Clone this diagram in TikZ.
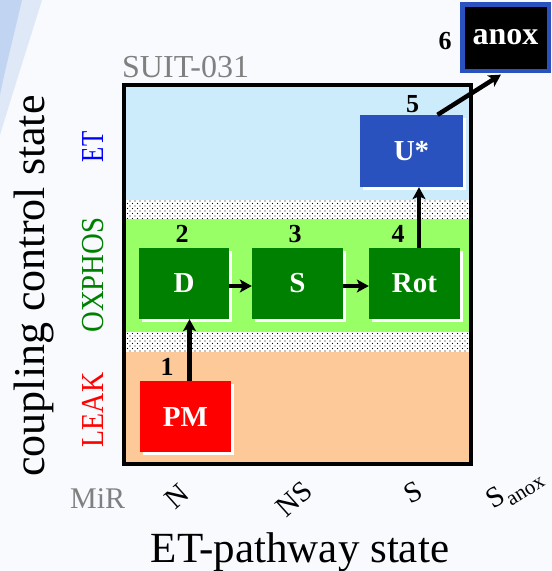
\documentclass[tikz,border=0pt]{standalone}
\usepackage{fontspec}
\setmainfont{Liberation Serif}
\usetikzlibrary{arrows.meta,patterns.meta,shadows}
\definecolor{bandET}{HTML}{CCEBFB}
\definecolor{bandOX}{HTML}{99FF66}
\definecolor{bandLK}{HTML}{FDC998}
\definecolor{dgreen}{HTML}{008000}
\definecolor{ublue}{HTML}{2A52BE}
\definecolor{txtgray}{HTML}{808080}
\definecolor{bgcol}{HTML}{F8FAFD}
\definecolor{streak}{HTML}{AFC8EE}
\newcommand\myfs[1]{\fontsize{#1}{#1}\selectfont}
\begin{document}
\begin{tikzpicture}[x=1pt,y=-1pt,
  box/.style={rectangle, inner sep=0pt, text=white, font=\bfseries\myfs{29},
    drop shadow={shadow xshift=3pt,shadow yshift=-3pt,fill=white,opacity=1}},
  num/.style={font=\bfseries\myfs{26}, anchor=base, inner sep=0pt},
  arr/.style={line width=4.5pt, -{Stealth[length=12pt,width=13pt,inset=3pt]}},
  band/.style={rotate=90, anchor=base, inner sep=0pt, font=\myfs{32}},
  tick/.style={font=\myfs{29}, inner sep=0pt}
]
\useasboundingbox (0,0) rectangle (552,571);
\fill[bgcol] (0,0) rectangle (552,571);
\fill[streak, opacity=0.35] (0,0) -- (42,0) .. controls (28,45) and (12,95) .. (0,135) -- cycle;
\fill[streak, opacity=0.6] (0,0) -- (22,0) .. controls (14,35) and (6,65) .. (0,95) -- cycle;

% interior with dots
\fill[white] (126,87) rectangle (468.5,463);
\fill[pattern={Dots[distance=5pt,radius=0.55pt]}, pattern color=black] (126,87) rectangle (468.5,463);
\fill[pattern={Dots[distance=5pt,radius=0.55pt,xshift=2.5pt,yshift=2.5pt]}, pattern color=black] (126,87) rectangle (468.5,463);
% bands
\fill[bandET] (126,87) rectangle (468.5,200);
\fill[bandOX] (126,219) rectangle (468.5,332);
\fill[bandLK] (126,352) rectangle (468.5,462);
% frame
\draw[line width=4pt] (124,85) rectangle (470.5,464);

% nodes
\node[box, fill=red, minimum width=91pt, minimum height=71pt] (PM) at (185.5,416.5) {PM};
\node[box, fill=dgreen, minimum width=90pt, minimum height=71pt] (D) at (184,283.5) {D};
\node[box, fill=dgreen, minimum width=91pt, minimum height=71pt] (S) at (297.5,283.5) {S};
\node[box, fill=dgreen, minimum width=91pt, minimum height=71pt] (Rot) at (414.5,283.5) {Rot};
\node[box, fill=ublue, minimum width=103pt, minimum height=72pt] (U) at (411.5,151) {U*};
\node[rectangle, inner sep=0pt, fill=black, draw=ublue, line width=4.5pt, text=white,
  font=\bfseries\myfs{32}, minimum width=86.5pt, minimum height=66.5pt] (anox) at (505.5,37.5) {anox};

% numbers
\node[num] (n1) at (167,375) {1};
\node[num] (n2) at (182,242) {2};
\node[num] (n3) at (295,242) {3};
\node[num] (n4) at (398,242) {4};
\node[num] (n5) at (412.5,112) {5};
\node[num] (n6) at (445,49) {6};

% connectors
\draw[arr] ([xshift=4pt]PM.north) -- ([xshift=4pt]PM.north |- D.south);
\draw[arr] ([yshift=-2.5pt]D.east) -- ([yshift=-2.5pt]S.west);
\draw[arr] ([yshift=-2.5pt]S.east) -- ([yshift=-2.5pt]Rot.west);
\draw[arr] ([xshift=4.5pt]Rot.north) -- ([xshift=4.5pt]Rot.north |- U.south);
\draw[arr, shorten >=3pt] ([xshift=26pt]U.north) -- ([xshift=-2pt]anox.south);

% labels
\node[rotate=90, anchor=base, inner sep=0pt, font=\myfs{44}] (ccs) at (44,286) {coupling control state};
\node[band, text=blue] (lET) at (103,147) {\scalebox{0.78}[1]{ET}};
\node[band, text=dgreen] (lOX) at (103,275) {\scalebox{0.9}[1]{OXPHOS}};
\node[band, text=red] (lLK) at (103,410) {\scalebox{0.87}[1]{LEAK}};
\node[anchor=base west, inner sep=0pt, text=txtgray, font=\myfs{32}] (suit) at (122,77) {SUIT-031};
\node[anchor=base west, inner sep=0pt, text=txtgray, font=\myfs{30}] (mir) at (70,508) {MiR};
\node[tick, rotate=42] (tN) at (177,496) {N};
\node[tick, rotate=42] (tNS) at (294,499) {NS};
\node[tick, rotate=28] (tS) at (413,492) {S};
\node[tick, rotate=32] (tSa) at (515,489) {S\raisebox{-0.25em}{\myfs{21}anox}};
\node[anchor=base, inner sep=0pt, font=\myfs{43}] (etp) at (300,562) {ET-pathway state};
\end{tikzpicture}
\end{document}
